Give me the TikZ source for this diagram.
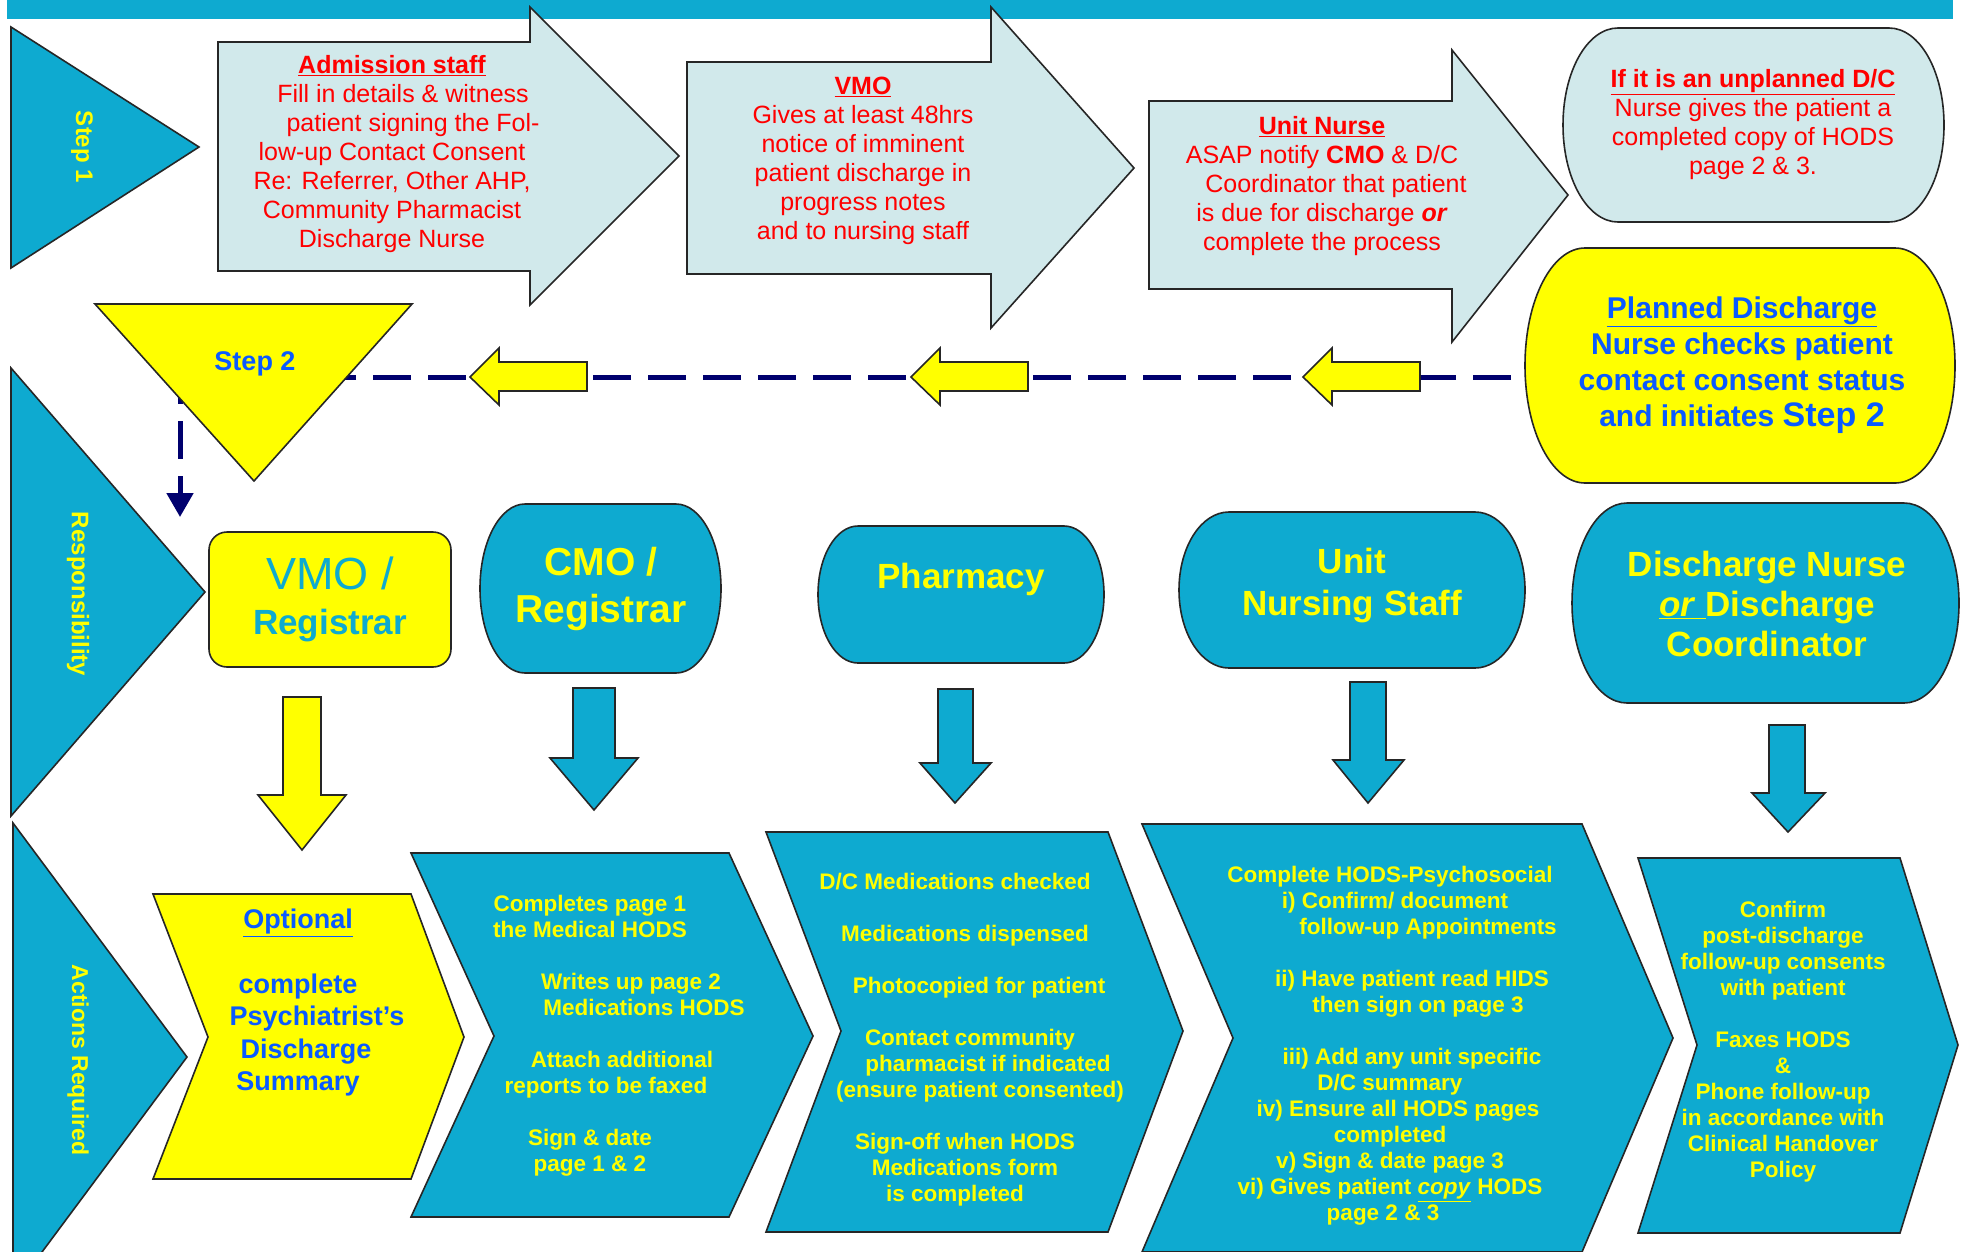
\documentclass[tikz,border=0pt]{standalone}
\usepackage{fontspec}
\setmainfont{Liberation Sans}
\usepackage{tikz}
\usetikzlibrary{arrows.meta}

\definecolor{hodsteal}{RGB}{14,170,208}
\definecolor{paleteal}{RGB}{209,233,235}
\definecolor{hodsyellow}{RGB}{255,255,0}
\definecolor{hodsred}{RGB}{255,0,0}
\definecolor{hodsblue}{RGB}{10,90,255}
\definecolor{dashnavy}{RGB}{0,0,110}

\tikzset{
  boxline/.style={line width=1.6pt,draw=black!85},
  tealfill/.style={boxline,fill=hodsteal},
  palefill/.style={boxline,fill=paleteal},
  yellowfill/.style={boxline,fill=hodsyellow},
  sidelabel/.style={text=hodsyellow,font=\bfseries\fontsize{24}{28}\selectfont,rotate=-90,inner sep=0pt},
  redtext/.style={text=hodsred,font=\fontsize{25}{29}\selectfont,align=center,inner sep=0pt},
  roletext/.style={text=hodsyellow,font=\bfseries\fontsize{35}{41}\selectfont,align=center,inner sep=0pt},
  actiontext/.style={text=hodsyellow,font=\bfseries\fontsize{22.5}{26}\selectfont,align=center,inner sep=0pt},
  navydash/.style={draw=dashnavy,line width=5pt,dash pattern=on 38pt off 17pt}
}

% box with bulging elliptic sides: style, left, top, right, bottom, side depth
\newcommand{\bulgebox}[6]{%
\filldraw[#1] ({#2+#6},#3) -- ({#4-#6},#3)
  .. controls ({#4-0.45*#6},#3) and (#4,{#3+0.22*(#5-#3)}) .. (#4,{0.5*(#3+#5)})
  .. controls (#4,{#5-0.22*(#5-#3)}) and ({#4-0.45*#6},#5) .. ({#4-#6},#5)
  -- ({#2+#6},#5)
  .. controls ({#2+0.45*#6},#5) and (#2,{#5-0.22*(#5-#3)}) .. (#2,{0.5*(#3+#5)})
  .. controls (#2,{#3+0.22*(#5-#3)}) and ({#2+0.45*#6},#3) .. ({#2+#6},#3) -- cycle;}

\begin{document}
\begin{tikzpicture}[x=1pt,y=-1pt]
\useasboundingbox (0,0) rectangle (1965,1251);
\clip (0,0) rectangle (1965,1251);
\fill[white] (0,0) rectangle (1965,1251);

% top band
\fill[hodsteal] (7,0) rectangle (1953,19);

% step 1 row
\filldraw[tealfill] (11,27) -- (11,268) -- (199,147) -- cycle;
\node[sidelabel] (step1) at (82,147) {Step 1};

\filldraw[palefill] (218,42) -- (530,42) -- (530,7) -- (679,156) -- (530,305) -- (530,271) -- (218,271) -- cycle;
\node[redtext] (admission) at (392,154) {\textbf{\underline{Admission staff}}\\
\hspace*{22pt}Fill in details \& witness\\
\hspace*{42pt}patient signing the Fol-\\
low-up Contact Consent\\
Re: Referrer, Other AHP,\\
Community Pharmacist\\
Discharge Nurse};

\filldraw[palefill] (687,62) -- (991,62) -- (991,7) -- (1134,168) -- (991,328) -- (991,274) -- (687,274) -- cycle;
\node[redtext] (vmonote) at (863,161) {\textbf{\underline{VMO}}\\
Gives at least 48hrs\\
notice of imminent\\
patient discharge in\\
progress notes\\
and to nursing staff};

\filldraw[palefill] (1149,101) -- (1452,101) -- (1452,50) -- (1568,195) -- (1452,342) -- (1452,289) -- (1149,289) -- cycle;
\node[redtext] (nursenote) at (1322,186) {\textbf{\underline{Unit Nurse}}\\
ASAP notify \textbf{CMO} \& D/C\\
\hspace*{28pt}Coordinator that patient\\
is due for discharge \textbf{\textit{or}}\\
complete the process};

\bulgebox{palefill}{1563}{28}{1944}{222}{55}
\node[redtext] (unplanned) at (1753,125) {\textbf{\underline{If it is an unplanned D/C}}\\
Nurse gives the patient a\\
completed copy of HODS\\
page 2 \& 3.};

% step 2 row
\bulgebox{yellowfill}{1525}{248}{1955}{483}{60}
\node[text=hodsblue,font=\bfseries\fontsize{30}{36}\selectfont,align=center,inner sep=0pt] (planned) at (1742,365) {\underline{Planned Discharge}\\
Nurse checks patient\\
contact consent status\\
and initiates {\fontsize{34}{36}\selectfont Step 2}};

\coordinate (plannedW) at (1511,377);
\coordinate (bend) at (180,377);
\coordinate (vmotop) at (180,517);
\draw[navydash,-{Triangle[width=26pt,length=24pt]}] (plannedW) -- (bend) -- (vmotop);

\filldraw[yellowfill] (95,304) -- (412,304) -- (254,481) -- cycle;
\node[text=hodsblue,font=\bfseries\fontsize{27}{32}\selectfont,inner sep=0pt] (step2) at (255,364) {Step 2};

\filldraw[yellowfill] (470,377) -- (499,348) -- (499,362) -- (587,362) -- (587,391) -- (499,391) -- (499,405) -- cycle;
\filldraw[yellowfill] (911,377) -- (940,348) -- (940,362) -- (1028,362) -- (1028,391) -- (940,391) -- (940,405) -- cycle;
\filldraw[yellowfill] (1303,377) -- (1332,348) -- (1332,362) -- (1420,362) -- (1420,391) -- (1332,391) -- (1332,405) -- cycle;

% responsibility row
\filldraw[tealfill] (11,368) -- (205,592) -- (11,816) -- cycle;
\node[sidelabel] (resp) at (78,594) {Responsibility};

\node[yellowfill,rounded corners=18pt,minimum width=242pt,minimum height=135pt,inner sep=0pt,align=center,text=hodsteal,font=\bfseries\fontsize{35}{45}\selectfont] (vmo) at (330,599.5) {{\mdseries\fontsize{45}{45}\selectfont VMO /}\\Registrar};

\bulgebox{tealfill}{480}{504}{721}{673}{45}
\node[roletext,font=\bfseries\fontsize{39}{47}\selectfont] (cmo) at (601,589) {CMO /\\Registrar};

\bulgebox{tealfill}{818}{526}{1104}{663}{40}
\node[roletext] (pharmacy) at (961,579) {Pharmacy};

\bulgebox{tealfill}{1179}{512}{1525}{668}{50}
\node[roletext,font=\bfseries\fontsize{35}{42}\selectfont] (unitstaff) at (1352,586) {Unit\\Nursing Staff};

\bulgebox{tealfill}{1572}{503}{1959}{703}{55}
\node[roletext,font=\bfseries\fontsize{35}{40}\selectfont] (dcnurse) at (1767,604) {Discharge Nurse\\
\underline{\textit{or}\ }Discharge\\
Coordinator};

% down arrows
\filldraw[yellowfill] (283,697) -- (321,697) -- (321,795) -- (346,795) -- (302,850) -- (258,795) -- (283,795) -- cycle;
\filldraw[tealfill] (573,688) -- (615,688) -- (615,758) -- (638,758) -- (594,810) -- (550,758) -- (573,758) -- cycle;
\filldraw[tealfill] (938,689) -- (973,689) -- (973,763) -- (991,763) -- (955,803) -- (920,763) -- (938,763) -- cycle;
\filldraw[tealfill] (1350,682) -- (1386,682) -- (1386,760) -- (1404,760) -- (1368,803) -- (1333,760) -- (1350,760) -- cycle;
\filldraw[tealfill] (1769,725) -- (1805,725) -- (1805,793) -- (1825,793) -- (1788,832) -- (1752,793) -- (1769,793) -- cycle;

% actions row
\filldraw[tealfill] (13,823) -- (187,1057) -- (13,1291) -- cycle;
\node[sidelabel,font=\bfseries\fontsize{23}{27}\selectfont] (actions) at (78,1060) {Actions Required};

\filldraw[yellowfill] (153,894) -- (411,894) -- (464,1037) -- (411,1179) -- (153,1179) -- (208,1037) -- cycle;
\node[text=hodsblue,font=\bfseries\fontsize{27}{32.5}\selectfont,align=center,inner sep=0pt] (optional) at (298,1003) {\underline{Optional}\\[32pt]
complete\\
\hspace*{38pt}Psychiatrist’s\\
\hspace*{16pt}Discharge\\
Summary};

\filldraw[tealfill] (411,853) -- (729,853) -- (813,1036) -- (729,1217) -- (411,1217) -- (494,1036) -- cycle;
\node[actiontext] (cmoact) at (590,1036) {Completes page 1\\
the Medical HODS\\[26pt]
\hspace*{82pt}Writes up page 2\\
\hspace*{108pt}Medications HODS\\[26pt]
\hspace*{64pt}Attach additional\\
\hspace*{32pt}reports to be faxed\\[26pt]
Sign \& date\\
page 1 \& 2};

\filldraw[tealfill] (766,832) -- (1108,832) -- (1183,1031) -- (1108,1232) -- (766,1232) -- (841,1031) -- cycle;
\node[actiontext] (pharmact) at (965,1040) {D/C Medications checked\hspace*{20pt}\\[26pt]
Medications dispensed\\[26pt]
\hspace*{28pt}Photocopied for patient\\[26pt]
\hspace*{10pt}Contact community\\
\hspace*{46pt}pharmacist if indicated\\
\hspace*{30pt}(ensure patient consented)\\[26pt]
Sign-off when HODS\\
Medications form\\
is completed\hspace*{20pt}};

\filldraw[tealfill] (1142,824) -- (1582,824) -- (1673,1038) -- (1582,1252) -- (1142,1252) -- (1233,1038) -- cycle;
\node[actiontext] (unitact) at (1390,1046) {Complete HODS-Psychosocial\\
\hspace*{10pt}i) Confirm/ document\\
\hspace*{76pt}follow-up Appointments\\[26pt]
\hspace*{44pt}ii) Have patient read HIDS\\
\hspace*{56pt}then sign on page 3\\[26pt]
\hspace*{44pt}iii) Add any unit specific\\
D/C summary\hspace*{14pt}\\
\hspace*{16pt}iv) Ensure all HODS pages\\
completed\\
v) Sign \& date page 3\hspace*{14pt}\\
vi) Gives patient \underline{\textit{copy}} HODS\\
page 2 \& 3\hspace*{14pt}};

\filldraw[tealfill] (1638,858) -- (1900,858) -- (1958,1045) -- (1900,1233) -- (1638,1233) -- (1697,1045) -- cycle;
\node[actiontext] (dcact) at (1783,1042) {Confirm\\
post-discharge\\
follow-up consents\\
with patient\\[26pt]
Faxes HODS\\
\&\\
Phone follow-up\\
in accordance with\\
Clinical Handover\\
Policy};
\end{tikzpicture}
\end{document}
